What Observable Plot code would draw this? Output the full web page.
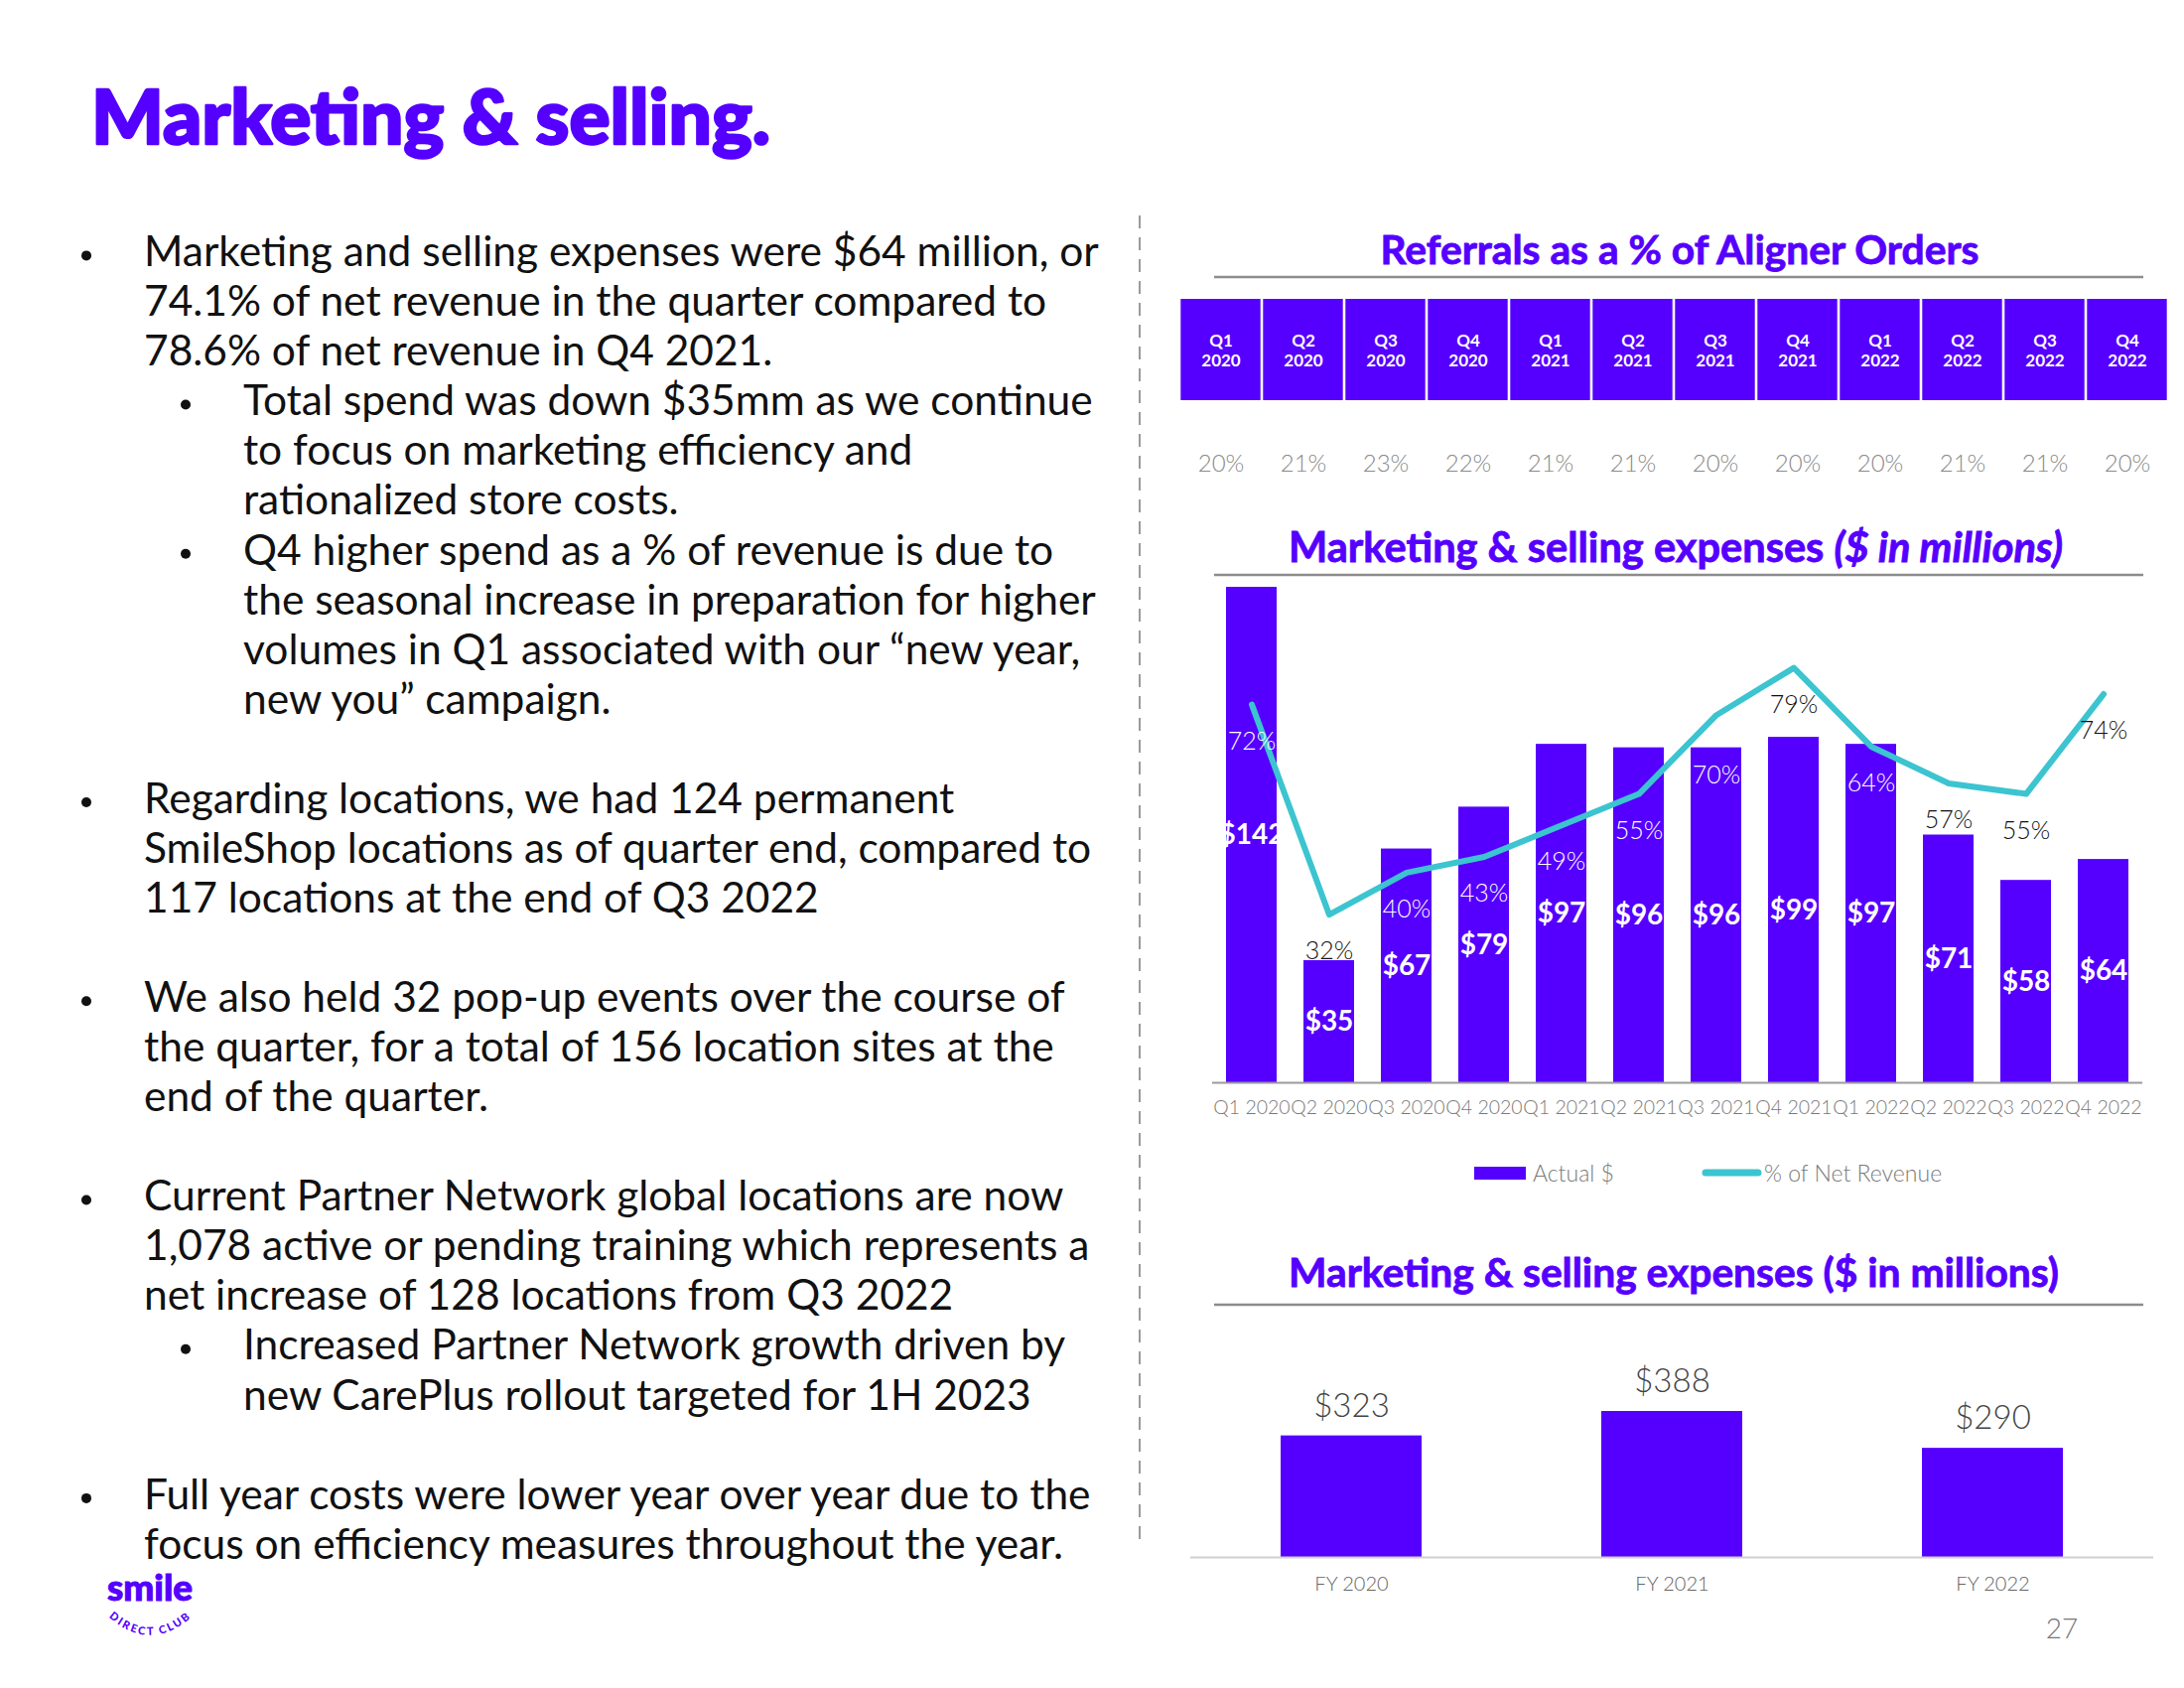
<!DOCTYPE html>
<html><head><meta charset="utf-8">
<script src="https://cdn.jsdelivr.net/npm/d3@7"></script>
<script src="https://cdn.jsdelivr.net/npm/@observablehq/plot@0.6"></script>
<style>
body{margin:0;background:#fff;}
#page{position:relative;width:2200px;height:1700px;overflow:hidden;background:#fff;}
#page svg{position:absolute;left:0;}
</style></head><body><div id="page"></div>
<script>
// ---------- data ----------
const quarters = ["Q1 2020","Q2 2020","Q3 2020","Q4 2020","Q1 2021","Q2 2021","Q3 2021","Q4 2021","Q1 2022","Q2 2022","Q3 2022","Q4 2022"];
const referralPct = [20,21,23,22,21,21,20,20,20,21,21,20];
const spend = [142,35,67,79,97,96,96,99,97,71,58,64];
const pctOfRevenue = [72,32,40,43,49,55,70,79,64,57,55,74];
const fiscalYears = ["FY 2020","FY 2021","FY 2022"];
const annualSpend = [323,388,290];
const legendLabels = ["Actual $","% of Net Revenue"];
const titleText = "Marketing & selling.";
const referralTitle = "Referrals as a % of Aligner Orders";
// bullet levels: "b" = main bullet, "c" = continuation, "s" = sub bullet, "sc" = sub continuation
const bodyLines = [
  ["b","Marketing and selling expenses were $64 million, or"],
  ["c","74.1% of net revenue in the quarter compared to"],
  ["c","78.6% of net revenue in Q4 2021."],
  ["s","Total spend was down $35mm as we continue"],
  ["sc","to focus on marketing efficiency and"],
  ["sc","rationalized store costs."],
  ["s","Q4 higher spend as a % of revenue is due to"],
  ["sc","the seasonal increase in preparation for higher"],
  ["sc","volumes in Q1 associated with our \u201cnew year,"],
  ["sc","new you\u201d campaign."],
  null,
  ["b","Regarding locations, we had 124 permanent"],
  ["c","SmileShop locations as of quarter end, compared to"],
  ["c","117 locations at the end of Q3 2022"],
  null,
  ["b","We also held 32 pop-up events over the course of"],
  ["c","the quarter, for a total of 156 location sites at the"],
  ["c","end of the quarter."],
  null,
  ["b","Current Partner Network global locations are now"],
  ["c","1,078 active or pending training which represents a"],
  ["c","net increase of 128 locations from Q3 2022"],
  ["s","Increased Partner Network growth driven by"],
  ["sc","new CarePlus rollout targeted for 1H 2023"],
  null,
  ["b","Full year costs were lower year over year due to the"],
  ["c","focus on efficiency measures throughout the year."]
];

const quarterly = quarters.map((q,i)=>({q, spend: spend[i], pct: pctOfRevenue[i], ref: referralPct[i]}));
const annual = fiscalYears.map((fy,i)=>({fy, v: annualSpend[i]}));

// ---------- style ----------
const PURPLE = "#5500ff", TEAL = "#3cc4d0", FONT = "Lato, 'Noto Sans', sans-serif";
const page = document.getElementById("page");
const NS = "http://www.w3.org/2000/svg";
const ctx = document.createElement("canvas").getContext("2d");
function measure(text, weight, style, size){ ctx.font = `${style||"normal"} ${weight} ${size}px ${FONT}`; return ctx.measureText(text).width; }
function fitSize(text, weight, target, style){ return 100*target/measure(text, weight, style, 100); }

const deco = document.createElementNS(NS,"svg");
deco.setAttribute("width",2200); deco.setAttribute("height",1700); deco.style.top="0px";
page.appendChild(deco);
function el(tag, attrs, parent){ const e=document.createElementNS(NS,tag); for(const k in attrs) e.setAttribute(k,attrs[k]); (parent||deco).appendChild(e); return e; }
function txt(x,y,s,attrs){ const t=el("text",Object.assign({x,y,"font-family":FONT},attrs)); t.textContent=s; return t; }

// title
const tSize = fitSize(titleText, 900, 684);
txt(92,145,titleText,{"font-size":tSize,"font-weight":900,fill:PURPLE,stroke:PURPLE,"stroke-width":2.5,"stroke-linejoin":"round"});

// body text
const bodySize = fitSize(bodyLines[0][1], 400, 963);
bodyLines.forEach((ln,i)=>{
  if(!ln) return;
  const cy = 255.4 + i*50.06, baseY = cy + 0.3*bodySize;
  const [lvl,s] = ln;
  const sub = lvl==="s" || lvl==="sc";
  if(lvl==="b") el("circle",{cx:87,cy:cy+2,r:5,fill:"#111"});
  if(lvl==="s") el("circle",{cx:187,cy:cy+2,r:5,fill:"#111"});
  txt(sub?245:145, baseY, s, {"font-size":bodySize, fill:"#111"});
});

// dashed divider
el("line",{x1:1148,x2:1148,y1:217,y2:1550,stroke:"#9a9a9a","stroke-width":2,"stroke-dasharray":"13 9"});

// chart titles + underlines
function centerTitle(parts, cx, cy, target){
  const total = parts.reduce((a,p)=>a+measure(p[0],700,p[1],100),0);
  const size = 100*target/total;
  const t = el("text",{x:cx,y:cy+0.34*size,"text-anchor":"middle","font-family":FONT,"font-size":size,"font-weight":700,fill:PURPLE,stroke:PURPLE,"stroke-width":0.8});
  parts.forEach(p=>{ const s=el("tspan",{"font-style":p[1]},t); s.textContent=p[0]; });
}
centerTitle([[referralTitle,"normal"]],1692,252,606);
centerTitle([["Marketing & selling expenses ","normal"],["($ in millions)","italic"]],1688,552,780);
centerTitle([["Marketing & selling expenses ($ in millions)","normal"]],1686,1282,776);
[279,579,1314].forEach(y=>el("line",{x1:1223,x2:2159,y1:y,y2:y,stroke:"#8c8c8c","stroke-width":2.5}));

// legend
el("rect",{x:1485,y:1175,width:52,height:13,fill:PURPLE});
txt(1544,1190,legendLabels[0],{"font-size":23,fill:"#7a7a7a","font-weight":300});
el("line",{x1:1718,x2:1771,y1:1181,y2:1181,stroke:TEAL,"stroke-width":7,"stroke-linecap":"round"});
txt(1777,1190,legendLabels[1],{"font-size":23,fill:"#7a7a7a","font-weight":300});

// page number
txt(2077,1650,"27",{"font-size":28,fill:"#777","text-anchor":"middle","font-weight":300});

// logo
const lsz = fitSize("smile",900,86);
txt(108,1612,"smile",{"font-size":lsz,"font-weight":900,fill:PURPLE,stroke:PURPLE,"stroke-width":1});
el("path",{id:"arc",d:"M108,1627 Q152,1668 198,1624",fill:"none"});
const tp = el("text",{"font-family":FONT,"font-size":11,"font-weight":900,fill:PURPLE,"letter-spacing":2.2});
const tpp = el("textPath",{href:"#arc",startOffset:"2"},tp); tpp.textContent="DIRECT CLUB";

// ---------- Plot charts ----------
function place(svg, top){ svg.style.top = top+"px"; svg.style.position="absolute"; svg.style.left="0px"; page.appendChild(svg); return svg; }
const base = {width:2200, style:{background:"transparent", fontFamily:FONT}};

// referral header cells
place(Plot.plot({...base, height:102, marginLeft:1183, marginRight:12, marginTop:0, marginBottom:0,
  x:{type:"band", domain:quarters, padding:0, axis:null}, y:{domain:[0,1], axis:null},
  marks:[
    Plot.barY(quarterly,{x:"q", y:()=>1, fill:PURPLE, insetLeft:1.3, insetRight:1.3}),
    Plot.text(quarterly,{x:"q", text:d=>d.q.replace(" ","\n"), fill:"white", fontWeight:700, fontSize:17, lineHeight:1.2})
  ]}), 301);

// referral percentages
place(Plot.plot({...base, height:40, marginLeft:1183, marginRight:12, marginTop:0, marginBottom:0,
  x:{type:"band", domain:quarters, padding:0, axis:null},
  marks:[ Plot.text(quarterly,{x:"q", text:d=>d.ref+"%", fill:"#8a8a8a", fontSize:24, fontWeight:300}) ]}), 447);

// quarterly bars
const qGeom = {...base, height:620, marginLeft:1221, marginRight:42, marginBottom:70};
const qx = {type:"band", domain:quarters, paddingInner:0.35, paddingOuter:0.175};
const barsPlot = place(Plot.plot({...qGeom, marginTop:51, x:{...qx, axis:null}, y:{domain:[0,142], axis:null},
  marks:[
    Plot.barY(quarterly,{x:"q", y:"spend", fill:PURPLE}),
    Plot.ruleY([0],{stroke:"#9b9b9b", strokeWidth:2}),
    Plot.axisX({tickSize:0, tickPadding:18, fontSize:19.5, fill:"#7a7a7a", fontWeight:300, label:null}),
    Plot.text(quarterly,{x:"q", y:d=>d.spend/2, text:d=>"$"+d.spend, fill:"white", fontWeight:700, fontSize:28})
  ]}), 540);

const lineOpts = {...qGeom, marginTop:21, x:{...qx, axis:null}, y:{domain:[0,100], axis:null}};
const linePlot = place(Plot.plot({...lineOpts,
  marks:[ Plot.line(quarterly,{x:"q", y:"pct", stroke:TEAL, strokeWidth:6, strokeLinejoin:"round"}) ]}), 540);

// percentage labels: below the line point; pushed fully inside a bar when they fall on its top edge
const sb = barsPlot.scale("y"), sl = linePlot.scale("y");
const LABEL_DY = 37, INSIDE_PAD = 28;
const labelPos = d => {
  const p = sl.apply(d.pct) + LABEL_DY, top = sb.apply(d.spend);
  return p > top ? {y: Math.max(p, top + INSIDE_PAD), inside: true} : {y: p, inside: false};
};
place(Plot.plot({...lineOpts,
  marks:[ Plot.text(quarterly,{x:"q", y:d=>sl.invert(labelPos(d).y), text:d=>d.pct+"%", fontSize:25, fontWeight:300,
    fill:d=> labelPos(d).inside ? "#ffffff" : "#111111"}) ]}), 540);

// annual bars
place(Plot.plot({...base, height:250, marginLeft:1199, marginRight:31, marginTop:51, marginBottom:52,
  x:{type:"band", domain:fiscalYears, paddingInner:0.56, paddingOuter:0.28, axis:null},
  y:{domain:[0,388], axis:null},
  marks:[
    Plot.barY(annual,{x:"fy", y:"v", fill:PURPLE}),
    Plot.ruleY([0],{stroke:"#d0d0d0", strokeWidth:2}),
    Plot.axisX({tickSize:0, tickPadding:19, fontSize:20, fill:"#666", fontWeight:300, label:null}),
    Plot.text(annual,{x:"fy", y:"v", dy:-30, text:d=>"$"+d.v, fill:"#444", fontSize:33, fontWeight:300})
  ]}), 1370);
</script></body></html>
